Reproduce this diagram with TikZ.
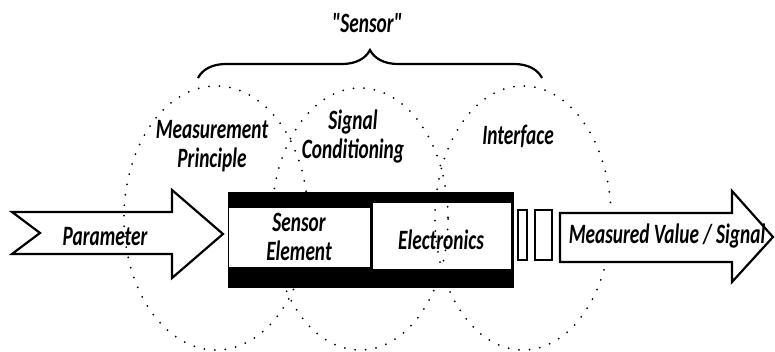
\documentclass[tikz,border=0pt]{standalone}
\usepackage{fontspec}
\newfontfamily\labfont[FakeStretch=0.69]{Carlito}
\usetikzlibrary{decorations.pathreplacing}
\begin{document}
\begin{tikzpicture}[x=1pt,y=-1pt,
  lbl/.style={font=\labfont\bfseries\itshape\fontsize{28}{29}\selectfont, inner sep=0pt, align=center},
  dotline/.style={line width=2pt, line cap=round, dash pattern=on 0pt off 10.5pt},
  outline/.style={line width=2.2pt, line join=miter},
  gap/.style={line width=1.6pt}]
\useasboundingbox (0,0) rectangle (775,352);
% input arrow
\draw[outline] (12,212) -- (172,212) -- (172,190) -- (223,234) -- (172,278) -- (172,254) -- (12,254) -- (40,233) -- cycle;
% sensor body
\fill (228,192) rectangle (514,288);
\fill[white] (373,203) rectangle (511,269);
% dotted areas
\draw[dotline] (216,218) ellipse [x radius=92, y radius=132];
\draw[dotline] (360,219) ellipse [x radius=88, y radius=131];
\draw[dotline] (523,218) ellipse [x radius=88, y radius=132];
\fill[white] (229,208) rectangle (370,267);
% interface gaps
\draw[gap] (518,210) rectangle (527,260);
\draw[gap] (535,210) rectangle (552,260);
% output arrow
\draw[outline, fill=white] (560,213) -- (732,213) -- (732,191) -- (773,237) -- (732,282) -- (732,262) -- (560,262) -- cycle;
% brace
\draw[line width=2.2pt, decorate, decoration={brace, amplitude=28pt}] (198,78) -- (542,78);
% labels
\node[lbl] (sensor) at (367,23) {"Sensor"};
\node[lbl] (mp) at (212,146) {Measurement\\Principle};
\node[lbl] (sc) at (353,137) {Signal\\Conditioning};
\node[lbl] (ifc) at (518,136) {Interface};
\node[lbl] (par) at (105,237) {Parameter};
\node[lbl] (se) at (299,237) {Sensor\\Element};
\node[lbl] (el) at (441,240) {Electronics};
\node[lbl] (mv) at (667,236) {Measured Value / Signal};
\end{tikzpicture}
\end{document}
